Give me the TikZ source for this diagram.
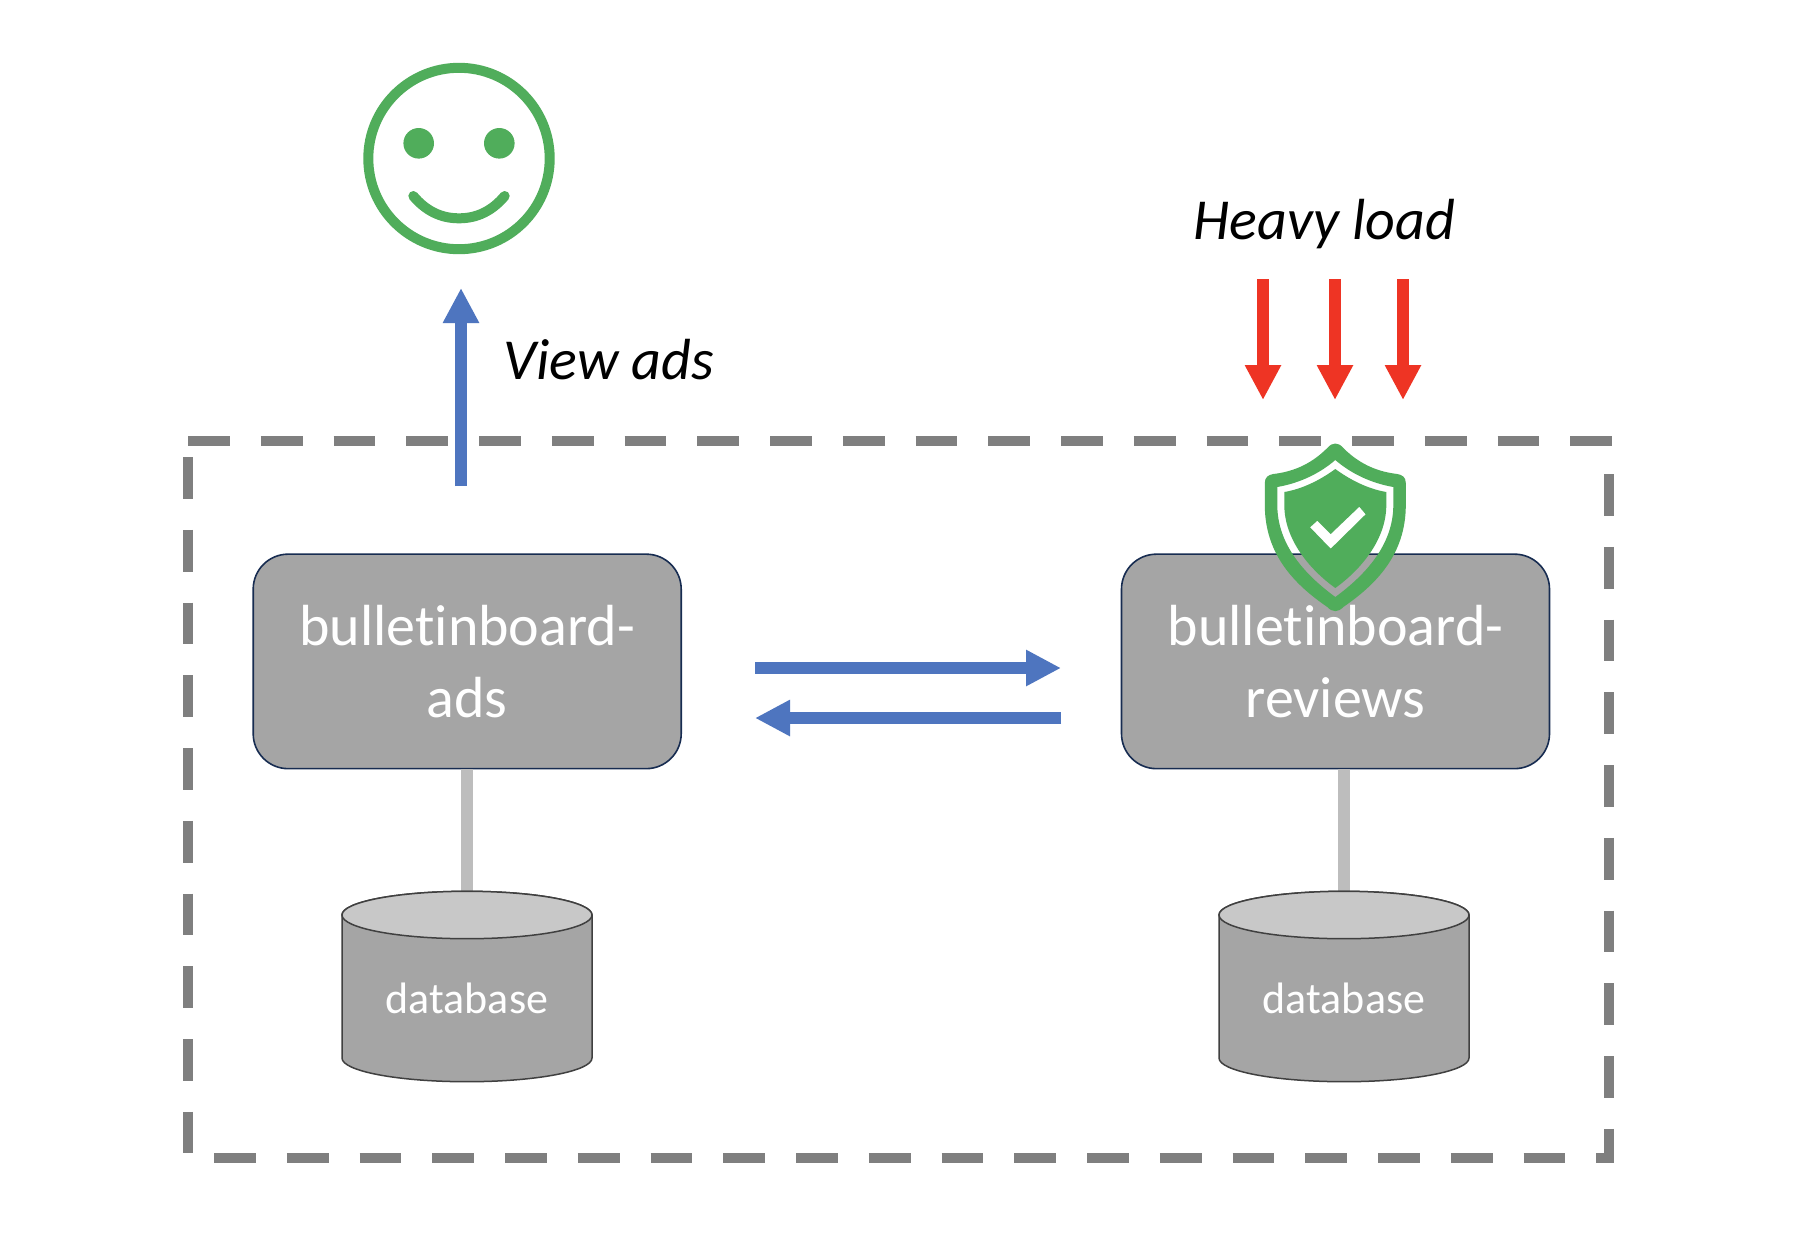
\documentclass[tikz,border=0pt]{standalone}
\usepackage{fontspec}
\setmainfont[Ligatures=NoCommon,RawFeature={-liga;-clig;-dlig}]{Carlito}
\usetikzlibrary{arrows.meta}
\definecolor{boxgray}{HTML}{A5A5A5}
\definecolor{boxline}{HTML}{172C51}
\definecolor{dashgray}{HTML}{7F7F7F}
\definecolor{linkgray}{HTML}{BDBDBD}
\definecolor{capgray}{HTML}{C8C8C8}
\definecolor{cylline}{HTML}{404040}
\definecolor{okgreen}{HTML}{50AD5B}
\definecolor{flowblue}{HTML}{4E75BF}
\definecolor{loadred}{HTML}{EE3424}
\newcommand{\dbdrum}[1]{%
  \filldraw[fill=boxgray,draw=cylline,line width=1.5pt] (#1-125,915) -- (#1-125,1058)
    arc[start angle=180,end angle=360,x radius=125pt,y radius=23.7pt] -- (#1+125,915)
    arc[start angle=0,end angle=180,x radius=125pt,y radius=23.7pt] -- cycle;
  \filldraw[fill=capgray,draw=cylline,line width=1.5pt] (#1,915) ellipse[x radius=125pt,y radius=23.7pt];}
\tikzset{
  x=1pt,y=-1pt,
  svcbox/.style={draw=boxline,line width=1.6pt,fill=boxgray,rounded corners=35pt,minimum width=428pt,minimum height=214.5pt,
    inner sep=0pt,align=center,text=white,font=\fontsize{58}{72}\selectfont},
  dbnode/.style={minimum width=250pt,minimum height=190pt,inner sep=0pt},
  dbtext/.style={text=white,font=\fontsize{44}{50}\selectfont,anchor=base,inner sep=0pt},
  note/.style={font=\itshape\fontsize{58}{70}\selectfont,anchor=base,inner sep=0pt},
  flow/.style={draw=flowblue,line width=12pt,-{Triangle[length=35pt 0 0,width=34pt 0 0,fill=flowblue]}},
  load/.style={draw=loadred,line width=12pt,-{Triangle[length=35pt 0 0,width=34pt 0 0,fill=loadred]}},
  link/.style={draw=linkgray,line width=12pt},
  boundary/.style={draw=dashgray,line width=10pt,dash pattern=on 41.75pt off 31pt},
}
\begin{document}
\begin{tikzpicture}
\useasboundingbox (0,0) rectangle (1796,1254);
\fill[white] (0,0) rectangle (1796,1254);
% dashed boundary
\draw[boundary] (188,441) -- (1614,441) (1609,474) -- (1609,1163) (214,1158) -- (1614,1158) (188,457) -- (188,1153);
% database frames (anchors for the connectors)
\node[dbnode] (dbads) at (467,986.7) {};
\node[dbnode] (dbrev) at (1344,986.7) {};
% services
\node[svcbox] (ads) at (467.2,661.4) {bulletinboard-\\ads};
\node[svcbox] (rev) at (1335.5,661.4) {bulletinboard-\\reviews};
% connectors to databases
\draw[link] (dbads.north |- ads.south) -- (dbads.north);
\draw[link] (dbrev.north |- rev.south) -- (dbrev.north);
% databases
\dbdrum{467}
\dbdrum{1344}
\node[dbtext] (dbadstext) at (467,1013.5) {database};
\node[dbtext] (dbrevtext) at (1344,1013.5) {database};
% flows between services
\coordinate (fa) at (755,668); \coordinate (fb) at (1061,668);
\coordinate (ga) at (1061,718); \coordinate (gb) at (755,718);
\draw[flow] (fa) -- (fb);
\draw[flow] (ga) -- (gb);
% view ads
\coordinate (va) at (461,486); \coordinate (vb) at (461,288);
\draw[flow] (va) -- (vb);
\node[note] (viewlabel) at (609,379) {View ads};
% heavy load
\node[note] (heavylabel) at (1324.5,239) {Heavy load};
\foreach \n/\xx in {a/1263,b/1335,c/1403}{
  \coordinate (l\n s) at (\xx,279); \coordinate (l\n e) at (\xx,400);
  \draw[load] (l\n s) -- (l\n e);
}
% smiley
\draw[okgreen,line width=10pt] (459,158.5) circle[radius=90.7pt];
\fill[okgreen] (418.7,143.3) circle[radius=15.3pt] (499.3,143.3) circle[radius=15.3pt];
\draw[okgreen,line width=10pt,line cap=round] (413.3,196) .. controls (426,211) and (441,218.3) .. (459,218.3)
  .. controls (477,218.3) and (492,211) .. (504.7,196);
% shield
\begin{scope}[shift={(1335.3,0)}]
\fill[okgreen,even odd rule]
  (8,448) .. controls (26,466) and (45,472) .. (62,474) .. controls (67,475) and (70.5,477) .. (70.5,483)
  -- (70.5,505) .. controls (70.5,555) and (40,585) .. (8,607) .. controls (3,612.5) and (-3,612.5) .. (-8,607)
  .. controls (-40,585) and (-70.5,555) .. (-70.5,505) -- (-70.5,483) .. controls (-70.5,477) and (-67,475) .. (-62,474)
  .. controls (-45,472) and (-26,466) .. (-8,448) .. controls (-3,442) and (3,442) .. (8,448) -- cycle
  (0,460) .. controls (15,473) and (35,483) .. (58,487) -- (58,505) .. controls (58,545) and (30,575) .. (0,597)
  .. controls (-30,575) and (-58,545) .. (-58,505) -- (-58,487) .. controls (-35,483) and (-15,473) .. (0,460) -- cycle
  (0,469) .. controls (15,480) and (33,489) .. (51,492) -- (51,505) .. controls (51,540) and (25,570) .. (0,588)
  .. controls (-25,570) and (-51,540) .. (-51,505) -- (-51,492) .. controls (-33,489) and (-15,480) .. (0,469) -- cycle
  (-25.3,527.3) -- (-18,520.7) -- (-4.6,534) -- (24,506.7) -- (30.4,514.3) -- (-4.6,548.7) -- cycle;
\end{scope}
\end{tikzpicture}
\end{document}
